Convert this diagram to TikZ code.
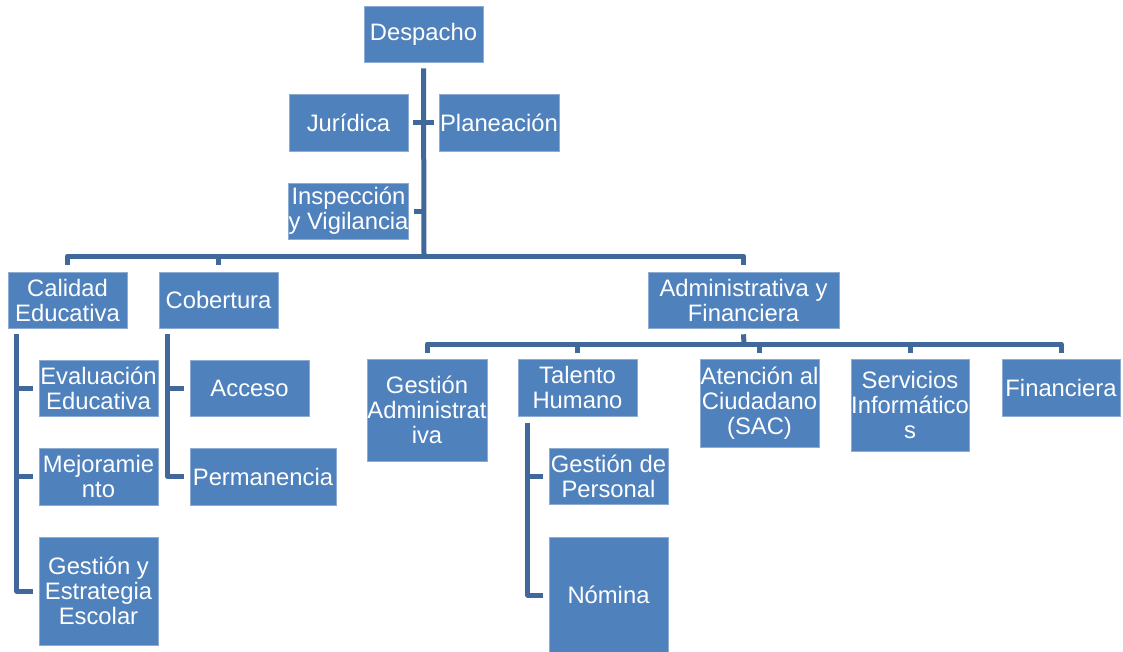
\documentclass[tikz,border=0pt]{standalone}
\usepackage{fontspec}
\setmainfont{Liberation Sans}
\definecolor{boxblue}{RGB}{79,129,189}
\definecolor{boxedge}{RGB}{140,172,212}
\definecolor{linkblue}{RGB}{64,104,154}
\tikzset{
  unit/.style={draw=boxedge, line width=0.6pt, fill=boxblue, text=white,
    inner sep=0pt, align=center, font=\fontsize{23.8}{25}\selectfont},
  link/.style={draw=linkblue, line width=5pt, line join=round}
}
\newcommand{\unitbox}[6]{% name, cx, cy, width, height, text
  \node[unit, minimum width=#4pt, minimum height=#5pt] (#1) at (#2,#3) {#6};}
\begin{document}
\begin{tikzpicture}[x=1pt, y=-1pt]
  \useasboundingbox (0,0) rectangle (1123,651);
  \clip (0,0) rectangle (1123,651);

  % top level and staff offices
  \unitbox{desp}{423.5}{34}{119}{56}{Despacho}
  \unitbox{jur}{348.5}{122.5}{119}{57}{Jurídica}
  \unitbox{plan}{499}{122.5}{120}{57}{Planeación}
  \unitbox{insp}{348.5}{211}{119}{56}{Inspección\\y Vigilancia}

  % second level
  \unitbox{cal}{67.5}{300}{119}{56}{Calidad\\Educativa}
  \unitbox{cob}{218.5}{300}{119}{56}{Cobertura}
  \unitbox{adm}{743.5}{300}{191}{56}{Administrativa y\\Financiera}

  % Calidad Educativa
  \unitbox{eval}{98.5}{388}{119}{56}{Evaluación\\Educativa}
  \unitbox{mej}{98.5}{476.5}{119}{57}{Mejoramie\\nto}
  \unitbox{gee}{98.5}{591}{119}{108}{Gestión y\\Estrategia\\Escolar}

  % Cobertura
  \unitbox{acc}{249.5}{388}{119}{56}{Acceso}
  \unitbox{perm}{263}{476.5}{146}{57}{Permanencia}

  % Administrativa y Financiera
  \unitbox{ga}{427}{410}{120}{102}{Gestión\\Administrat\\iva}
  \unitbox{th}{577.5}{387.5}{119}{57}{Talento\\Humano}
  \unitbox{sac}{759.5}{403}{119}{88}{Atención al\\Ciudadano\\(SAC)}
  \unitbox{si}{910}{405}{118}{92}{Servicios\\Informático\\s}
  \unitbox{fin}{1061}{387.5}{118}{57}{Financiera}

  % Talento Humano
  \unitbox{gp}{608.5}{476}{119}{56}{Gestión de\\Personal}
  \unitbox{nom}{608.5}{595}{119}{116}{Nómina}

  % main trunk from Despacho
  \coordinate (trunk) at (424,256);
  \draw[link] ([yshift=-6pt]desp.south) -- (trunk);
  \draw[link] ([xshift=5pt]jur.east) -- (jur.east -| trunk);
  \draw[link] ([xshift=-5pt]plan.west) -- (plan.west -| trunk);
  \draw[link] ([xshift=5pt]insp.east) -- (insp.east -| trunk);
  \draw[link] ([yshift=7pt]cal.north) |- (trunk) -| ([yshift=7pt]adm.north);
  \draw[link] ([yshift=7pt]cob.north) -- (cob.north |- trunk);

  % Calidad Educativa branch
  \coordinate (calv) at ([xshift=9pt,yshift=-6pt]cal.south west);
  \draw[link] (calv) |- ([xshift=-6pt]gee.west);
  \draw[link] ([xshift=-6pt]eval.west) -- (eval.west -| calv);
  \draw[link] ([xshift=-6pt]mej.west) -- (mej.west -| calv);

  % Cobertura branch
  \coordinate (cobv) at ([xshift=9pt,yshift=-6pt]cob.south west);
  \draw[link] (cobv) |- ([xshift=-6pt]perm.west);
  \draw[link] ([xshift=-6pt]acc.west) -- (acc.west -| cobv);

  % Administrativa y Financiera branch
  \coordinate (abar) at (744,344);
  \draw[link] ([yshift=-6pt]adm.south) -- (abar);
  \draw[link] ([yshift=6pt]ga.north) |- (abar) -| ([yshift=6pt]fin.north);
  \draw[link] ([yshift=6pt]th.north) -- (th.north |- abar);
  \draw[link] ([yshift=6pt]sac.north) -- (sac.north |- abar);
  \draw[link] ([yshift=6pt]si.north) -- (si.north |- abar);

  % Talento Humano branch
  \coordinate (thv) at ([xshift=10pt,yshift=-7pt]th.south west);
  \draw[link] (thv) |- ([xshift=-6pt]nom.west);
  \draw[link] ([xshift=-6pt]gp.west) -- (gp.west -| thv);
\end{tikzpicture}
\end{document}
